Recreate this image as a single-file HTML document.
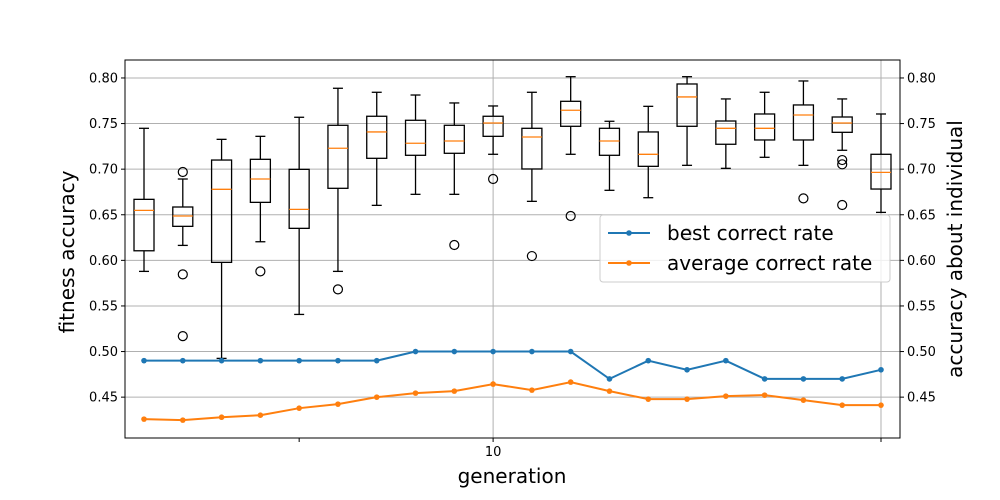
<!DOCTYPE html>
<html><head><meta charset="utf-8"><style>
html,body{margin:0;padding:0;background:#fff}
svg{display:block;font-family:"DejaVu Sans","Liberation Sans",sans-serif}
</style></head><body>
<svg id="chart" width="1000" height="500" xmlns="http://www.w3.org/2000/svg"></svg>
<script>
const generations=[1,2,3,4,5,6,7,8,9,10,11,12,13,14,15,16,17,18,19,20];
const whiskerLow=[0.5879,0.6164,0.4925,0.6204,0.5407,0.5879,0.6603,0.6724,0.6724,0.7163,0.6647,0.7163,0.6768,0.6687,0.7042,0.7009,0.7130,0.7042,0.7207,0.6526];
const q1=[0.6105,0.6373,0.5978,0.6636,0.6351,0.6790,0.7119,0.7152,0.7174,0.7360,0.7002,0.7470,0.7152,0.7031,0.7470,0.7273,0.7320,0.7320,0.7404,0.6782];
const medians=[0.6548,0.6486,0.6779,0.6892,0.6559,0.7229,0.7408,0.7284,0.7309,0.7506,0.7353,0.7646,0.7309,0.7163,0.7792,0.7448,0.7448,0.7594,0.7506,0.6965];
const q3=[0.6669,0.6585,0.7100,0.7108,0.6998,0.7481,0.7580,0.7536,0.7481,0.7580,0.7448,0.7744,0.7448,0.7408,0.7934,0.7528,0.7605,0.7704,0.7572,0.7163];
const whiskerHigh=[0.7448,0.6892,0.7327,0.7360,0.7569,0.7887,0.7843,0.7813,0.7726,0.7693,0.7843,0.8014,0.7525,0.7689,0.8014,0.7770,0.7843,0.7967,0.7770,0.7605];
const outliers=[[],[0.6969,0.5846,0.5169],[],[0.5879],[],[0.5682],[],[],[0.6168],[0.6892],[0.6047],[0.6486],[],[],[0.6296],[],[],[0.6680],[0.7100,0.7053,0.6607],[]];
const bestRate=[0.49,0.49,0.49,0.49,0.49,0.49,0.49,0.50,0.50,0.50,0.50,0.50,0.47,0.49,0.48,0.49,0.47,0.47,0.47,0.48];
const avgRate=[0.4259,0.4248,0.4280,0.4302,0.4379,0.4423,0.4500,0.4544,0.4566,0.4643,0.4577,0.4665,0.4566,0.4478,0.4478,0.4511,0.4522,0.4467,0.4412,0.4412];
const yTicks=[0.45,0.50,0.55,0.60,0.65,0.70,0.75,0.80];
const xTicks=[5,10,20];
const xTickLabels=["","10",""];

const L=125,R=900,T=60,B=438;
const X0=0.51,X1=20.49,Y0=0.4052,Y1=0.8197;
const sx=v=>L+(v-X0)/(X1-X0)*(R-L);
const sy=v=>B-(v-Y0)/(Y1-Y0)*(B-T);
const svg=document.getElementById('chart');
const NS='http://www.w3.org/2000/svg';
function mk(tag,attrs,parent){const e=document.createElementNS(NS,tag);for(const k in attrs)e.setAttribute(k,attrs[k]);(parent||svg).appendChild(e);return e;}

yTicks.forEach(v=>{
  const g=mk('line',{x1:L,x2:R,y1:sy(v),y2:sy(v),stroke:'#b0b0b0','stroke-width':1});
  
  
});
[10,20].forEach(v=>{
  const g=mk('line',{x1:sx(v),x2:sx(v),y1:T,y2:B,stroke:'#b0b0b0','stroke-width':1});
  
  
});

generations.forEach((g,i)=>{
  const grp=mk('g',{});
  
  
  const x=sx(g),w=10,c=5;
  mk('line',{x1:x,x2:x,y1:sy(q3[i]),y2:sy(whiskerHigh[i]),stroke:'#000','stroke-width':1.3},grp);
  mk('line',{x1:x,x2:x,y1:sy(q1[i]),y2:sy(whiskerLow[i]),stroke:'#000','stroke-width':1.3},grp);
  mk('line',{x1:x-c,x2:x+c,y1:sy(whiskerHigh[i]),y2:sy(whiskerHigh[i]),stroke:'#000','stroke-width':1.3},grp);
  mk('line',{x1:x-c,x2:x+c,y1:sy(whiskerLow[i]),y2:sy(whiskerLow[i]),stroke:'#000','stroke-width':1.3},grp);
  mk('rect',{x:x-w,y:sy(q3[i]),width:2*w,height:sy(q1[i])-sy(q3[i]),fill:'none',stroke:'#000','stroke-width':1.3},grp);
  mk('line',{x1:x-w,x2:x+w,y1:sy(medians[i]),y2:sy(medians[i]),stroke:'#ff7f0e','stroke-width':1.3},grp);
  outliers[i].forEach(o=>{
    const oc=mk('circle',{cx:x,cy:sy(o),r:4.5,fill:'none',stroke:'#000','stroke-width':1.2},grp);
    
    
  });
});

function series(vals,color,name){
  const pts=vals.map((v,i)=>sx(generations[i])+','+sy(v)).join(' ');
  const p=mk('polyline',{points:pts,fill:'none',stroke:color,'stroke-width':2});
  
  
  vals.forEach((v,i)=>{
    const d=mk('circle',{cx:sx(generations[i]),cy:sy(v),r:2.8,fill:color});
    
    
  });
}
series(bestRate,'#1f77b4','best-correct-rate');
series(avgRate,'#ff7f0e','average-correct-rate');

const fr=mk('rect',{x:L,y:T,width:R-L,height:B-T,fill:'none',stroke:'#000','stroke-width':1});



yTicks.forEach(v=>{
  const y=sy(v);
  mk('line',{x1:L-4,x2:L,y1:y,y2:y,stroke:'#000'});
  mk('line',{x1:R,x2:R+4,y1:y,y2:y,stroke:'#000'});
  const t1=mk('text',{x:L-7,y:y+4.5,'text-anchor':'end','font-size':13,fill:'#000'});
  t1.textContent=v.toFixed(2);
  
  
  const t2=mk('text',{x:R+7,y:y+4.5,'text-anchor':'start','font-size':13,fill:'#000'});
  t2.textContent=v.toFixed(2);
  
  
});
xTicks.forEach((v,i)=>{
  const x=sx(v);
  mk('line',{x1:x,x2:x,y1:B,y2:B+4,stroke:'#000'});
  if(xTickLabels[i]){
    const t=mk('text',{x:x,y:B+18,'text-anchor':'middle','font-size':13,fill:'#000'});
    t.textContent=xTickLabels[i];
    
    
  }
});

let t=mk('text',{x:512,y:483,'text-anchor':'middle','font-size':20,fill:'#000'});
t.textContent='generation';


t=mk('text',{x:0,y:0,'text-anchor':'middle','font-size':20,fill:'#000',transform:'translate(74,252) rotate(-90)'});
t.textContent='fitness accuracy';


t=mk('text',{x:0,y:0,'text-anchor':'middle','font-size':20,fill:'#000',transform:'translate(962,249) rotate(-90)'});
t.textContent='accuracy about individual';



const lg=mk('g',{});


mk('rect',{x:600,y:215,width:290,height:67,rx:3,fill:'#fff','fill-opacity':0.8,stroke:'#ccc'},lg);
[['best correct rate','#1f77b4',233],['average correct rate','#ff7f0e',263]].forEach(([lab,col,y])=>{
  const e=mk('g',{},lg);
  
  
  mk('line',{x1:608,x2:650,y1:y,y2:y,stroke:col,'stroke-width':2},e);
  mk('circle',{cx:629,cy:y,r:2.8,fill:col},e);
  const tx=mk('text',{x:667,y:y+7,'font-size':20,fill:'#000'},e);
  tx.textContent=lab;
});
</script>
</body></html>
